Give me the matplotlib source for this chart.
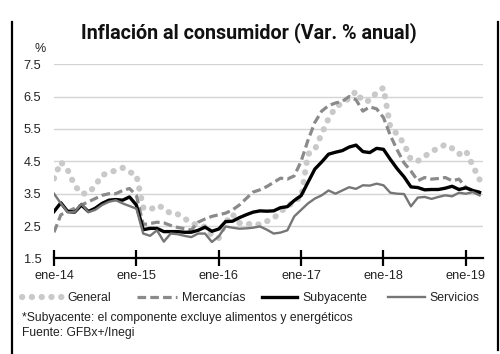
import matplotlib
matplotlib.use("Agg")
import matplotlib.pyplot as plt

# ---------------- data (monthly, dic-13 .. feb-19) ----------------
tick_labels = ["ene-14", "ene-15", "ene-16", "ene-17", "ene-18", "ene-19"]
y_ticks = [1.5, 2.5, 3.5, 4.5, 5.5, 6.5, 7.5]

general = [3.97, 4.48, 4.23, 3.76, 3.50, 3.51, 3.75, 4.07, 4.15, 4.22, 4.30, 4.17,
           4.08, 3.07, 3.00, 3.14, 3.06, 2.88, 2.87, 2.74, 2.59, 2.52, 2.48, 2.21,
           2.13, 2.61, 2.87, 2.60, 2.54, 2.60, 2.54, 2.65, 2.73, 2.97, 3.06, 3.31,
           3.36, 4.72, 4.86, 5.35, 5.82, 6.16, 6.31, 6.44, 6.66, 6.35, 6.37, 6.63,
           6.77, 5.55, 5.34, 5.04, 4.55, 4.51, 4.65, 4.81, 4.90, 5.02, 4.90, 4.72,
           4.83, 4.37, 3.94]

mercancias = [2.31, 2.85, 2.95, 3.05, 3.15, 3.25, 3.35, 3.45, 3.50, 3.50, 3.60, 3.66,
              3.45, 2.55, 2.58, 2.62, 2.60, 2.52, 2.46, 2.42, 2.38, 2.62, 2.72, 2.80,
              2.85, 2.90, 3.00, 3.15, 3.35, 3.55, 3.62, 3.72, 3.85, 3.98, 3.95, 4.05,
              4.50, 5.15, 5.70, 6.05, 6.22, 6.30, 6.35, 6.50, 6.40, 6.05, 6.18, 6.12,
              5.85, 5.30, 4.85, 4.45, 4.20, 3.90, 4.00, 3.95, 3.97, 4.00, 3.90, 3.95,
              3.70, 3.60, 3.55]

subyacente = [2.95, 3.22, 2.95, 2.93, 3.15, 2.95, 3.05, 3.20, 3.30, 3.32, 3.30, 3.40,
              3.15, 2.39, 2.43, 2.43, 2.33, 2.33, 2.33, 2.31, 2.31, 2.37, 2.47, 2.34,
              2.41, 2.64, 2.65, 2.76, 2.85, 2.93, 2.97, 2.96, 2.97, 3.07, 3.10, 3.29,
              3.44, 3.85, 4.26, 4.48, 4.72, 4.78, 4.83, 4.94, 5.00, 4.80, 4.77, 4.90,
              4.87, 4.56, 4.27, 4.02, 3.71, 3.69, 3.62, 3.63, 3.63, 3.67, 3.73, 3.63,
              3.68, 3.60, 3.54]

servicios = [3.50, 3.20, 2.93, 2.93, 3.19, 2.93, 3.00, 3.15, 3.25, 3.30, 3.20, 3.12,
             3.04, 2.27, 2.20, 2.37, 2.02, 2.27, 2.25, 2.20, 2.16, 2.27, 2.27, 2.01,
             2.18, 2.49, 2.45, 2.42, 2.43, 2.45, 2.49, 2.39, 2.27, 2.30, 2.37, 2.80,
             3.00, 3.20, 3.35, 3.45, 3.60, 3.50, 3.60, 3.70, 3.65, 3.76, 3.75, 3.81,
             3.76, 3.53, 3.50, 3.49, 3.11, 3.38, 3.40, 3.34, 3.40, 3.45, 3.42, 3.53,
             3.50, 3.55, 3.45]

plt.rcParams["font.family"] = ["Liberation Sans", "DejaVu Sans"]

fig = plt.figure(figsize=(5.0, 3.54), dpi=100)
ax = fig.add_axes([0.108, 0.2698, 0.858, 0.549])

x = list(range(len(general)))

l_gen, = ax.plot(x, general, color="#c9c9c9", lw=4.4,
                 linestyle=(0, (0.05, 1.55)), dash_capstyle="round", zorder=2,
                 label="General")
l_mer, = ax.plot(x, mercancias, color="#8a8a8a", lw=2.3,
                 linestyle=(0, (2.7, 1.3)), zorder=3, label="Mercancías")
l_sub, = ax.plot(x, subyacente, color="#000000", lw=2.4, zorder=4,
                 label="Subyacente")
l_ser, = ax.plot(x, servicios, color="#767676", lw=1.7, zorder=5,
                 label="Servicios")

ax.set_xlim(0, 62.5)
ax.set_ylim(1.5, 7.5)
ax.set_yticks(y_ticks)
ax.set_yticklabels([f"{v:.1f}" for v in y_ticks])
ax.set_xticks([12 * i for i in range(len(tick_labels))])
ax.set_xticklabels(tick_labels)

ax.grid(axis="y", color="#d4d4d4", lw=1.0, zorder=0)
ax.set_axisbelow(True)
for s in ["left", "right", "top"]:
    ax.spines[s].set_visible(False)
ax.spines["bottom"].set_linewidth(1.6)
ax.spines["bottom"].set_zorder(6)
ax.tick_params(axis="y", length=0, pad=9, labelsize=9.2, labelcolor="#222222")
ax.tick_params(axis="x", direction="inout", length=11, width=1.6, pad=3,
               labelsize=9.2, labelcolor="#222222")

fig.text(0.080, 0.862, "%", fontsize=9, color="#222222", ha="center", va="center")

fig.text(0.497, 0.908, "Inflación al consumidor (Var. % anual)", ha="center", va="center",
         fontsize=14.2, fontweight="bold", family=["Roboto", "DejaVu Sans"],
         color="#111111")

# legend entries, each anchored where the reference places it
leg_specs = [(l_gen, 0.044, 3.3), (l_mer, 0.274, 3.3), (l_sub, 0.524, 2.9), (l_ser, 0.776, 3.0)]
for h, xa, hl in leg_specs:
    lg = fig.legend(handles=[h], loc="center left", bbox_to_anchor=(xa, 0.158),
                    frameon=False, fontsize=8.8, handlelength=hl, handletextpad=0.4,
                    borderaxespad=0, borderpad=0)
    for t in lg.get_texts():
        t.set_color("#222222")

fig.text(0.044, 0.102, "*Subyacente: el componente excluye alimentos y energéticos",
         fontsize=8.7, color="#222222", va="center", ha="left")
fig.text(0.044, 0.059, "Fuente: GFBx+/Inegi",
         fontsize=8.7, color="#222222", va="center", ha="left")

# frame lines on left / right edges
fig.add_artist(plt.Line2D([0.024, 0.024], [0.0, 0.938], color="black", lw=1.6,
                          transform=fig.transFigure))
fig.add_artist(plt.Line2D([0.995, 0.995], [0.012, 0.938], color="black", lw=1.6,
                          transform=fig.transFigure))

fig.savefig("out.png", dpi=100)
